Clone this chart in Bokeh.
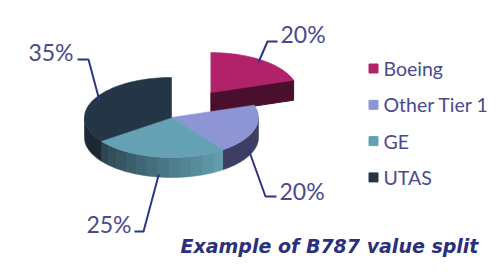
import numpy as np
from bokeh.plotting import figure
from bokeh.models import Range1d
from bokeh.core.properties import value
from bokeh.embed import file_html
from bokeh.resources import INLINE

# ---- data ----
categories = ["Boeing", "Other Tier 1", "GE", "UTAS"]
shares = [20, 20, 25, 35]
pct_labels = ["20%", "20%", "25%", "35%"]
title_text = "Example of B787 value split"

# ---- style ----
top_colors = ["#B1226B", "#8E95D5", "#65A1B5", "#243646"]
side_colors = ["#4A0F2D", "#3C3F63", "#4F7F8E", "#1C2935"]
explode = [0.77, 0, 0, 0]
CX, CY, RX, RY, DEPTH = 171, 117, 87, 40, 20
LABEL_COLOR = "#4A4A8E"
LINE_COLOR = "#2E3586"
TITLE_COLOR = "#2B2F7C"

# label layout (text anchor, align, leader elbow, leader end)
label_pos = [(280, 33, "left", (267, 41), (277, 41)),
             (279, 190, "left", (265, 196), (276, 196)),
             (131, 223, "right", (143, 231), (134, 231)),
             (73, 51, "right", (88, 59), (77, 59))]
legend_x, legend_y0, legend_dy = 373, 68, 36.3


def proj(theta, r=1.0, dx=0.0, dy=0.0, down=0.0):
    t = np.radians(theta)
    return CX + dx + r * RX * np.sin(t), CY + dy - r * RY * np.cos(t) + down


p = figure(width=500, height=277, output_backend="svg", toolbar_location=None,
           x_range=Range1d(0, 500), y_range=Range1d(277, 0), min_border=0)
p.axis.visible = False
p.grid.visible = False
p.outline_line_color = None
p.background_fill_color = "white"

# angles (clockwise from 12 o'clock)
total = float(sum(shares))
starts, ends = [], []
acc = 0.0
for s in shares:
    starts.append(acc)
    acc += s / total * 360.0
    ends.append(acc)

offsets = []
for i in range(len(shares)):
    mid = (starts[i] + ends[i]) / 2
    offsets.append((explode[i] * RX * np.sin(np.radians(mid)),
                    -explode[i] * RY * np.cos(np.radians(mid))))


def hexmix(c1, c2, f):
    a = [int(c1[k:k + 2], 16) for k in (1, 3, 5)]
    b = [int(c2[k:k + 2], 16) for k in (1, 3, 5)]
    return "#%02x%02x%02x" % tuple(int(round(a[j] + (b[j] - a[j]) * f)) for j in range(3))


def draw_slice_sides(i):
    dx, dy = offsets[i]
    a, b = starts[i], ends[i]
    # radial cut faces (only for exploded slices)
    if explode[i] > 0:
        for ang in (a, b):
            nang = ang + 90 if ang == b else ang - 90
            if np.cos(np.radians(nang)) < 0:
                x0, y0 = proj(ang, 0, dx, dy)
                x1, y1 = proj(ang, 1, dx, dy)
                p.patch([x0, x1, x1, x0], [y0, y1, y1 + DEPTH, y0 + DEPTH],
                        fill_color=side_colors[i], line_color=side_colors[i])
    # outer arc side on the front half
    lo, hi = max(a, 90), min(b, 270)
    if hi <= lo:
        return
    nseg = 12 if categories[i] == "GE" else 1
    edges = np.linspace(lo, hi, nseg + 1)
    for k in range(nseg):
        th = np.linspace(edges[k], edges[k + 1], 30)
        xt, yt = proj(th, 1, dx, dy)
        xb, yb = proj(th[::-1], 1, dx, dy, DEPTH)
        if nseg > 1:
            f = 1 - (k + 0.5) / nseg
            col = hexmix("#2A434E", "#64A0B2", f)
        else:
            col = side_colors[i]
        p.patch(list(xt) + list(xb), list(yt) + list(yb),
                fill_color=col, line_color=col, line_width=0.6)


def draw_slice_top(i):
    dx, dy = offsets[i]
    th = np.linspace(starts[i], ends[i], 60)
    xa, ya = proj(th, 1, dx, dy)
    x0, y0 = proj(0, 0, dx, dy)
    p.patch([x0] + list(xa), [y0] + list(ya),
            fill_color=top_colors[i], line_color=top_colors[i], line_width=0.6)


exploded = [i for i in range(len(shares)) if explode[i] > 0]
body = [i for i in range(len(shares)) if explode[i] == 0]
for i in exploded:
    draw_slice_sides(i)
    draw_slice_top(i)
for i in body:
    draw_slice_sides(i)
for i in body:
    draw_slice_top(i)

# leader lines and percentage labels
for i in range(len(shares)):
    dx, dy = offsets[i]
    mid = (starts[i] + ends[i]) / 2
    front = np.cos(np.radians(mid)) < 0
    ax, ay = proj(mid, 0.93, dx, dy, DEPTH if front else 0)
    tx, ty, align, elbow, end = label_pos[i]
    p.line([ax, elbow[0], end[0]], [ay, elbow[1], end[1]],
           line_color=LINE_COLOR, line_width=2)
    p.text([tx], [ty], text=[pct_labels[i]], text_align=align, text_baseline="middle",
           text_font=value("Lato"), text_font_size="23px", text_color=LABEL_COLOR)

# legend
ly = [legend_y0 + k * legend_dy for k in range(len(categories))]
p.scatter([legend_x] * len(categories), ly, marker="square", size=9,
          fill_color=top_colors, line_color=top_colors)
p.text([legend_x + 10] * len(categories), ly, text=categories, text_align="left",
       text_baseline="middle", text_font=value("Lato"), text_font_size="19.5px",
       text_color=LABEL_COLOR)

# caption
p.text([180], [245], text=[title_text], text_align="left", text_baseline="middle",
       text_font=value("DejaVu Sans"), text_font_size="19px", text_font_style="bold italic",
       text_color=TITLE_COLOR)

open("out.html", "w").write(file_html(p, INLINE))
